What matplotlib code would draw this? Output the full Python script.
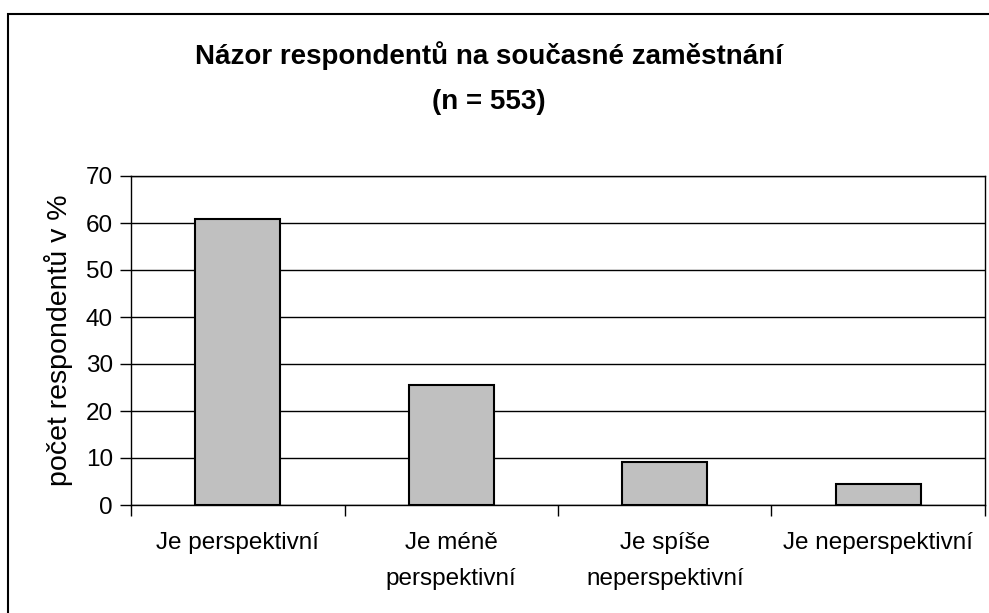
import matplotlib.pyplot as plt
from matplotlib.patches import Rectangle

# data
categories = ['Je perspektivní', 'Je méně\nperspektivní', 'Je spíše\nneperspektivní', 'Je neperspektivní']
values = [60.9, 25.5, 9.2, 4.4]
y_ticks = [0, 10, 20, 30, 40, 50, 60, 70]

plt.rcParams['font.family'] = ['Liberation Sans', 'DejaVu Sans']

W, H = 989, 613
fig = plt.figure(figsize=(W / 100, H / 100), dpi=100)

# outer chart frame (only top and left edges are visible)
fig.patches.append(Rectangle((8 / W, -1), 2, 2 - 14 / H, transform=fig.transFigure,
                             fill=False, edgecolor='black', linewidth=1.5))

ax = fig.add_axes([131 / W, 1 - 505 / H, (985 - 131) / W, (505 - 176) / H])

x = range(len(categories))
ax.bar(x, values, width=0.4, color='#c0c0c0', edgecolor='black', linewidth=1.5, zorder=3)

ax.set_xlim(-0.5, len(categories) - 0.5)
ax.set_ylim(0, 70)
ax.set_yticks(y_ticks)
ax.yaxis.grid(True, color='black', linewidth=1)
ax.set_axisbelow(True)

# category separators as ticks, labels drawn as text so line spacing can be set
ax.set_xticks([i - 0.5 for i in range(len(categories) + 1)])
ax.set_xticklabels([])
ax.tick_params(axis='x', length=8, width=1, direction='out')
ax.tick_params(axis='y', labelsize=17.5, length=8, width=1, direction='out', pad=5)
for i, c in zip(x, categories):
    ax.text(i, -27 / 329, c, transform=ax.get_xaxis_transform(), ha='center', va='top',
            fontsize=17.5, linespacing=1.8)

for s in ['top', 'right', 'left', 'bottom']:
    ax.spines[s].set_linewidth(1)

ax.set_ylabel('počet respondentů v %', fontsize=20.5, labelpad=9)

fig.text(489 / W, 1 - 56 / H, 'Názor respondentů na současné zaměstnání',
         ha='center', va='center', fontsize=20, fontweight='bold')
fig.text(489 / W, 1 - 102 / H, '(n = 553)',
         ha='center', va='center', fontsize=20, fontweight='bold')

plt.savefig('out.png', dpi=100)
